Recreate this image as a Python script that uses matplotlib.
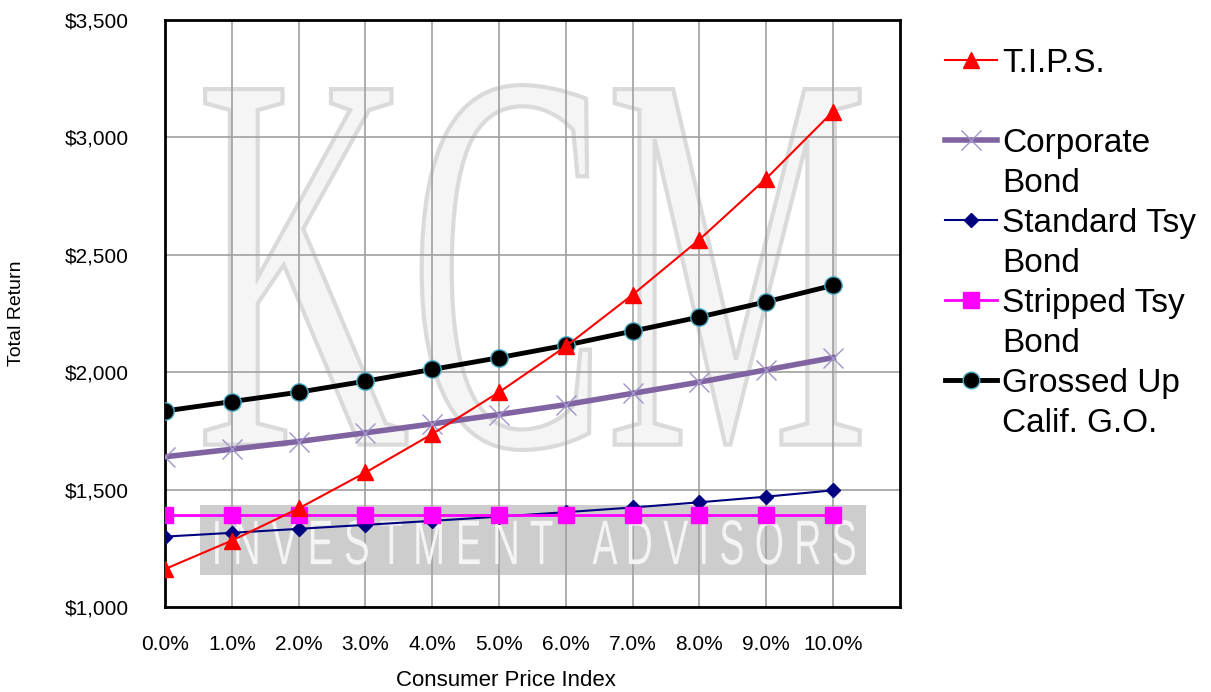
import matplotlib.pyplot as plt
from matplotlib.lines import Line2D
from matplotlib.patches import Rectangle, PathPatch
from matplotlib.textpath import TextPath
from matplotlib.font_manager import FontProperties
from matplotlib.transforms import Affine2D

plt.rcParams['font.family'] = ['Liberation Sans', 'DejaVu Sans']

cpi = ["0.0%", "1.0%", "2.0%", "3.0%", "4.0%", "5.0%", "6.0%", "7.0%", "8.0%", "9.0%", "10.0%"]
tips = [1162, 1283, 1420, 1573, 1737, 1915, 2110, 2330, 2565, 2825, 3110]
corporate = [1640, 1672, 1705, 1742, 1780, 1820, 1862, 1910, 1958, 2010, 2062]
standard_tsy = [1300, 1316, 1333, 1350, 1367, 1385, 1404, 1424, 1446, 1470, 1497]
stripped_tsy = [1393] * 11
grossed_up = [1835, 1875, 1915, 1962, 2012, 2062, 2115, 2175, 2235, 2300, 2370]
y_ticks = [1000, 1500, 2000, 2500, 3000, 3500]


def stretched_text(ax, s, x0, x1, y0, y1, family, **kw):
    # text squeezed into a box given in data units
    tp = TextPath((0, 0), s, size=1, prop=FontProperties(family=family))
    bb = tp.get_extents()
    t = Affine2D().translate(-bb.x0, -bb.y0).scale((x1 - x0) / bb.width, (y1 - y0) / bb.height).translate(x0, y0)
    ax.add_patch(PathPatch(t.transform_path(tp), **kw))


fig = plt.figure(figsize=(12.11, 6.92), dpi=100)
ax = fig.add_axes([0.1363, 0.1228, 0.6067, 0.8482])
x = list(range(len(cpi)))

# watermark
stretched_text(ax, "KCM", 0.6, 10.4, 1669, 3223, "Liberation Serif",
               fc="#f5f5f5", ec="#dadada", lw=3, zorder=0.4)
ax.add_patch(Rectangle((0.52, 1136), 9.97, 298, color="#cdcdcd", zorder=0.5, lw=0))
stretched_text(ax, "I N V E S T M E N T", 0.75, 5.8, 1180, 1370, "Liberation Sans",
               fc="#f4f4f4", ec="none", zorder=0.6)
stretched_text(ax, "A D V I S O R S", 6.4, 10.33, 1180, 1370, "Liberation Sans",
               fc="#f4f4f4", ec="none", zorder=0.6)

ax.plot(x, tips, color="#ff0000", lw=1.5, marker="^", ms=11, zorder=5)
ax.plot(x, corporate, color="#8064a2", lw=4, marker="x", ms=15, mec="#a093cc", mew=1, zorder=3)
ax.plot(x, standard_tsy, color="#000080", lw=1.5, marker="D", ms=7.5, zorder=4)
ax.plot(x, stripped_tsy, color="#ff00ff", lw=2, marker="s", ms=11, zorder=4)
ax.plot(x, grossed_up, color="black", lw=3.5, marker="o", ms=12.5, mec="#4bacc6", mew=1, zorder=4)

ax.set_xlim(0, 11)
ax.set_ylim(1000, 3500)
ax.set_xticks(x)
ax.set_xticklabels(cpi, fontsize=15)
ax.set_yticks(y_ticks)
ax.set_yticklabels([f"${v:,}" for v in y_ticks], fontsize=15)
ax.tick_params(axis="x", length=0, pad=20)
ax.tick_params(axis="y", length=0, pad=26)
ax.grid(True, color="#a0a0a0", lw=1.2)
ax.set_axisbelow(True)
for s in ax.spines.values():
    s.set_linewidth(2)
fig.text(506 / 1211, 1 - 681 / 692, "Consumer Price Index", fontsize=16, ha="center", va="center")
fig.text(17 / 1211, 1 - 313 / 692, "Total Return", fontsize=14, ha="center", va="center", rotation=90)

# legend drawn by hand, markers on the first line of each entry
entries = [
    (["T.I.P.S."], dict(color="#ff0000", lw=1.5, marker="^", ms=11)),
    (["Corporate", "Bond"], dict(color="#8064a2", lw=4, marker="x", ms=15, mec="#a093cc", mew=1)),
    (["Standard Tsy", "Bond"], dict(color="#000080", lw=1.5, marker="D", ms=7.5)),
    (["Stripped Tsy", "Bond"], dict(color="#ff00ff", lw=2, marker="s", ms=11)),
    (["Grossed Up", "Calif. G.O."], dict(color="black", lw=3.5, marker="o", ms=12, mec="#4bacc6", mew=1)),
]
tr = fig.transFigure
for i, (lines, style) in enumerate(entries):
    yc = 60 + 80 * i
    yp = 1 - yc / 692
    fig.add_artist(Line2D([945 / 1211, 997 / 1211], [yp, yp], transform=tr, markevery=[], **style))
    fig.add_artist(Line2D([971 / 1211], [yp], transform=tr, **style))
    for j, ln in enumerate(lines):
        fig.text(1002 / 1211, 1 - (yc + 12 + 40 * j) / 692, ln, fontsize=24, va="baseline", ha="left")

fig.savefig("out.png", dpi=100)
